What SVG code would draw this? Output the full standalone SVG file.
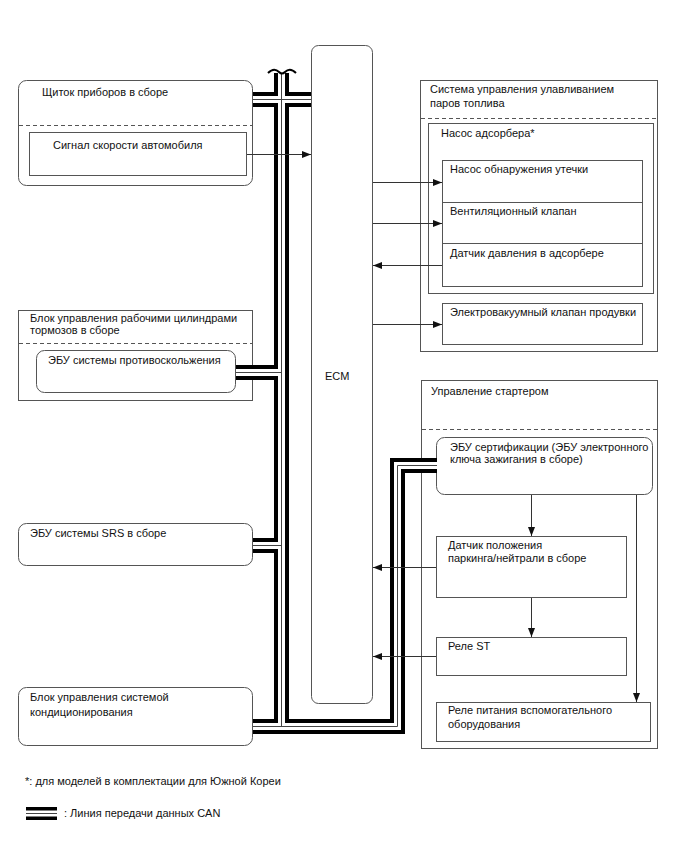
<svg xmlns="http://www.w3.org/2000/svg" width="688" height="852" viewBox="0 0 688 852">
<defs>
<marker id="arr" markerWidth="9" markerHeight="7" refX="9" refY="3.5" orient="auto" markerUnits="userSpaceOnUse">
<path d="M0,0 L9,3.5 L0,7 z" fill="#111"/>
</marker>
<style>
text{font-family:"Liberation Sans",Arial,sans-serif;font-size:11px;fill:#111}
.box{fill:#fff;stroke:#555;stroke-width:1}
.dash{stroke:#555;stroke-width:1;stroke-dasharray:4,3;fill:none}
.busb{fill:none;stroke:#000;stroke-width:15;stroke-linejoin:miter}
.busw{fill:none;stroke:#fff;stroke-width:7;stroke-linejoin:miter}
.bust{fill:none;stroke:#444;stroke-width:1}
.con{fill:none;stroke:#333;stroke-width:1;marker-end:url(#arr)}
</style>
</defs>
<rect width="688" height="852" fill="#fff"/>

<g id="ecm">
<rect class="box" x="311.5" y="45.5" width="61" height="658" rx="7"/>
<text x="325" y="380">ECM</text>
</g>

<g id="cluster">
<rect class="box" x="18.5" y="80.5" width="234" height="105" rx="8"/>
<text x="42" y="96">Щиток приборов в сборе</text>
<line class="dash" x1="19" y1="125.5" x2="252" y2="125.5"/>
<rect class="box" x="29.5" y="132.5" width="217" height="43"/>
<text x="53" y="149">Сигнал скорости автомобиля</text>
</g>

<g id="brake">
<rect class="box" x="18.5" y="310.5" width="234" height="90"/>
<text x="30" y="322">Блок управления рабочими цилиндрами</text>
<text x="30" y="334">тормозов в сборе</text>
<line class="dash" x1="19" y1="343.5" x2="252" y2="343.5"/>
<rect class="box" x="36.5" y="350.5" width="199" height="42" rx="8"/>
<text x="48" y="364">ЭБУ системы противоскольжения</text>
</g>

<g id="srs">
<rect class="box" x="18.5" y="523.5" width="234" height="42" rx="8"/>
<text x="30" y="537">ЭБУ системы SRS в сборе</text>
</g>

<g id="ac">
<rect class="box" x="18.5" y="687.5" width="234" height="58" rx="8"/>
<text x="30" y="701">Блок управления системой</text>
<text x="30" y="716">кондиционирования</text>
</g>

<g id="evap">
<rect class="box" x="420.5" y="80.5" width="237" height="271"/>
<text x="430" y="93">Система управления улавливанием</text>
<text x="430" y="107">паров топлива</text>
<line class="dash" x1="421" y1="118.5" x2="657" y2="118.5"/>
</g>

<g id="canister-pump">
<rect class="box" x="428.5" y="123.5" width="225" height="170"/>
<text x="441" y="137">Насос адсорбера*</text>
</g>

<g id="leak-pump">
<rect class="box" x="442.5" y="160.5" width="200" height="42"/>
<text x="450" y="173">Насос обнаружения утечки</text>
</g>

<g id="vent-valve">
<rect class="box" x="442.5" y="202.5" width="200" height="41"/>
<text x="450" y="215">Вентиляционный клапан</text>
</g>

<g id="pressure-sensor">
<rect class="box" x="442.5" y="243.5" width="200" height="43"/>
<text x="450" y="257">Датчик давления в адсорбере</text>
</g>

<g id="purge-vsv">
<rect class="box" x="442.5" y="303.5" width="200" height="41"/>
<text x="450" y="316">Электровакуумный клапан продувки</text>
</g>

<g id="starter">
<rect class="box" x="421.5" y="380.5" width="236" height="368"/>
<text x="431" y="395">Управление стартером</text>
<line class="dash" x1="422" y1="429.5" x2="657" y2="429.5"/>
</g>

<g id="cert-ecu">
<rect class="box" x="436.5" y="437.5" width="216" height="57" rx="8"/>
<text x="450" y="451">ЭБУ сертификации (ЭБУ электронного</text>
<text x="450" y="463">ключа зажигания в сборе)</text>
</g>

<g id="pn-sensor">
<rect class="box" x="436.5" y="536.5" width="190" height="61"/>
<text x="448" y="549">Датчик положения</text>
<text x="448" y="562">паркинга/нейтрали в сборе</text>
</g>

<g id="st-relay">
<rect class="box" x="436.5" y="637.5" width="190" height="38"/>
<text x="448" y="650">Реле ST</text>
</g>

<g id="acc-relay">
<rect class="box" x="436.5" y="702.5" width="214" height="39"/>
<text x="448" y="714">Реле питания вспомогательного</text>
<text x="448" y="728">оборудования</text>
</g>

<g id="connectors">
<g id="can">
<path class="busb" d="M281.5,73 V726.5"/>
<path class="busb" d="M253,99.5 H311"/>
<path class="busb" d="M236,372.5 H281.5"/>
<path class="busb" d="M253,545.5 H281.5"/>
<path class="busb" d="M253,726.5 H397.5 V465.5 H437"/>
<path class="busw" d="M281.5,73 V726.5"/>
<path class="busw" d="M253,99.5 H311"/>
<path class="busw" d="M236,372.5 H281.5"/>
<path class="busw" d="M253,545.5 H281.5"/>
<path class="busw" d="M253,726.5 H397.5 V465.5 H437"/>
<path class="bust" d="M281.5,73 V726.5"/>
<path class="bust" d="M253,99.5 H311"/>
<path class="bust" d="M236,372.5 H281.5"/>
<path class="bust" d="M253,545.5 H281.5"/>
<path class="bust" d="M253,726.5 H397.5 V465.5 H437"/>
<path d="M268,73 Q274,67 279,72 Q282,75 285,72 Q290,67 296,73" fill="none" stroke="#000" stroke-width="2"/>
</g>
<line class="con" x1="247" y1="154.5" x2="311" y2="154.5"/>
<line class="con" x1="373" y1="182.5" x2="442" y2="182.5"/>
<line class="con" x1="373" y1="223.5" x2="442" y2="223.5"/>
<line class="con" x1="442" y1="265.5" x2="373" y2="265.5"/>
<line class="con" x1="373" y1="324.5" x2="442" y2="324.5"/>
<line class="con" x1="436" y1="567.5" x2="373" y2="567.5"/>
<line class="con" x1="436" y1="656.5" x2="373" y2="656.5"/>
<line class="con" x1="531.5" y1="495" x2="531.5" y2="536"/>
<line class="con" x1="531.5" y1="598" x2="531.5" y2="637"/>
<line class="con" x1="636.5" y1="495" x2="636.5" y2="702"/>
</g>

<g id="legend">
<text x="25" y="785">*: для моделей в комплектации для Южной Кореи</text>
<rect x="26" y="807" width="31" height="3.5" fill="#000"/>
<line x1="26" y1="813.5" x2="57" y2="813.5" stroke="#444" stroke-width="1"/>
<rect x="26" y="816.5" width="31" height="3.5" fill="#000"/>
<text x="64" y="817">: Линия передачи данных CAN</text>
</g>
</svg>
